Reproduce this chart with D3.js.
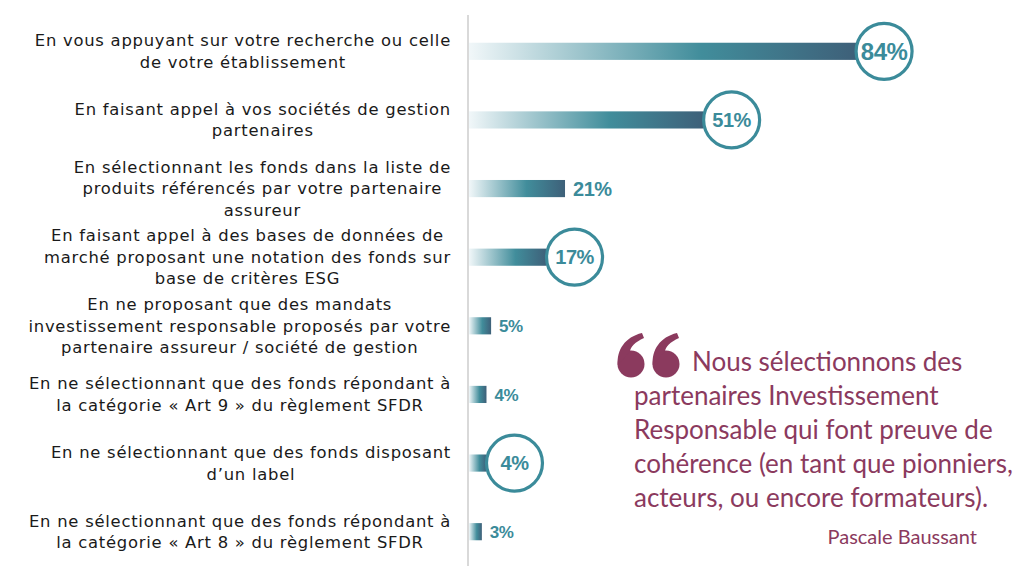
<!DOCTYPE html>
<html><head><meta charset="utf-8">
<script src="https://cdn.jsdelivr.net/npm/d3@7"></script>
<style>body{margin:0;background:#fff}svg{display:block}</style>
</head><body>
<svg id="c" width="1024" height="571"></svg>
<script>
const categories = [
  ["En vous appuyant sur votre recherche ou celle","de votre établissement"],
  ["En faisant appel à vos sociétés de gestion","partenaires"],
  ["En sélectionnant les fonds dans la liste de","produits référencés par votre partenaire","assureur"],
  ["En faisant appel à des bases de données de","marché proposant une notation des fonds sur","base de critères ESG"],
  ["En ne proposant que des mandats","investissement responsable proposés par votre","partenaire assureur / société de gestion"],
  ["En ne sélectionnant que des fonds répondant à","la catégorie « Art 9 » du règlement SFDR"],
  ["En ne sélectionnant que des fonds disposant","d’un label"],
  ["En ne sélectionnant que des fonds répondant à","la catégorie « Art 8 » du règlement SFDR"]
];
const values = [84, 51, 21, 17, 5, 4, 4, 3];
const circled = [true, true, false, true, false, false, true, false];
const quoteLines = ["Nous sélectionnons des","partenaires Investissement","Responsable qui font preuve de","cohérence (en tant que pionniers,","acteurs, ou encore formateurs)."];
const quoteAuthor = "Pascale Baussant";

const svg = d3.select("#c");
const teal = "#3b8b9a";
const maroon = "#8b3a5e";

const defs = svg.append("defs");
const grad = defs.append("linearGradient").attr("id","bg").attr("x1","0").attr("x2","1").attr("y1","0").attr("y2","0");
grad.append("stop").attr("offset","0").attr("stop-color","#f1f7f9");
grad.append("stop").attr("offset","0.6").attr("stop-color","#418d9b");
grad.append("stop").attr("offset","1").attr("stop-color","#3e6079");

const idx = d3.range(values.length);
const y = d3.scaleBand().domain(idx).range([17,566]).paddingInner(0.75).paddingOuter(0.375);
const x = d3.scaleLinear().domain([0,100]).range([468, 930]);

// axis line
svg.append("line").attr("x1",468).attr("x2",468).attr("y1",15).attr("y2",566)
  .attr("stroke","#d9d9d9").attr("stroke-width",2);

// bars
svg.selectAll("rect.bar").data(idx).join("rect").attr("class","bar")
  .attr("x", x(0)+1).attr("y", i=>y(i)).attr("height", y.bandwidth())
  .attr("width", i=>x(values[i])-x(0)-1).attr("fill","url(#bg)");

// circles
svg.selectAll("circle.hl").data(idx.filter(i=>circled[i])).join("circle").attr("class","hl")
  .attr("cx", i=>x(values[i])+28).attr("cy", i=>y(i)+y.bandwidth()/2).attr("r",28)
  .attr("fill","#fff").attr("stroke",teal).attr("stroke-width",3.2);

// value labels
svg.selectAll("text.val").data(idx).join("text").attr("class","val")
  .attr("x", i=> circled[i] ? x(values[i])+28 : x(values[i])+8)
  .attr("y", i=>y(i)+y.bandwidth()/2)
  .attr("dy","0.36em")
  .attr("text-anchor", i=>circled[i]?"middle":"start")
  .attr("font-family","'Liberation Sans', Arial, sans-serif").attr("font-weight","bold")
  .attr("font-size", i=> circled[i] ? (values[i]>80?24:20) : (values[i]>10?20:17))
  .attr("letter-spacing","-0.5")
  .attr("fill",teal).text(i=>values[i]+"%");

// category labels
const lh = 21.5;
const g = svg.append("g").attr("font-family","'DejaVu Sans', sans-serif").attr("font-size",16.4).attr("letter-spacing",0.75);
idx.forEach(i=>{
  const lines = categories[i];
  const t = g.append("text").attr("text-anchor","middle").attr("fill","#1a1a1a");
  const cy = y(i)+y.bandwidth()/2;
  lines.forEach((l,k)=>{
    t.append("tspan").attr("y", cy + (k-(lines.length-1)/2)*lh).attr("dy","0.35em").text(l);
  });
  const spans = t.selectAll("tspan").nodes();
  const w = d3.max(spans, s=>s.getComputedTextLength());
  t.selectAll("tspan").attr("x", 451 - w/2);
});

// quote mark (decorative shapes)
const qm = svg.append("g").attr("fill",maroon);
[617, 652].forEach(x0=>{
  const m = qm.append("g").attr("transform",`translate(${x0},333)`);
  m.append("circle").attr("cx",14).attr("cy",31).attr("r",13.5);
  m.append("path").attr("d","M0.8,32 C-0.5,17 8,4 25,0 L27,5 C18,9 13.5,14 13,18.5 Z");
});
const q = svg.append("text").attr("font-family","Lato, sans-serif").attr("font-size",26).attr("fill",maroon);
quoteLines.forEach((l,k)=>{
  q.append("tspan").attr("x", k===0?692:634).attr("y",371+k*34).text(l);
});
svg.append("text").attr("x",977).attr("y",544).attr("text-anchor","end")
  .attr("font-family","Lato, sans-serif").attr("font-size",20).attr("fill",maroon).text(quoteAuthor);
</script>
</body></html>
